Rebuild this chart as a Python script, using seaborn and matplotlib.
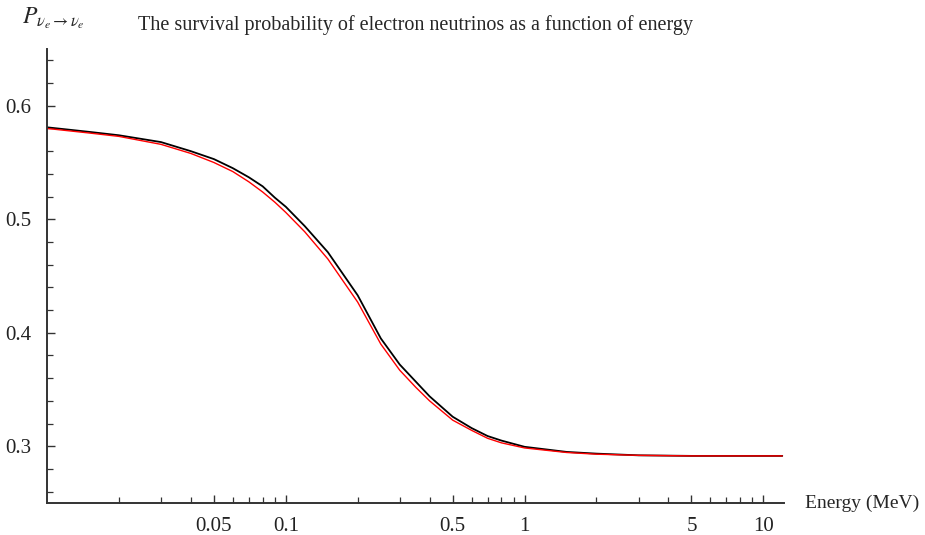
"""Survival probability of electron neutrinos vs energy"""
import matplotlib
matplotlib.use("Agg")
import matplotlib.pyplot as plt
import matplotlib.ticker as mticker
import seaborn as sns
import pandas as pd

# values
energy = [0.01, 0.015, 0.02, 0.03, 0.04, 0.05, 0.06, 0.07, 0.08, 0.09,
          0.1, 0.12, 0.15, 0.2, 0.25, 0.3, 0.35, 0.4, 0.5, 0.6,
          0.7, 0.8, 1.0, 1.5, 2.0, 3.0, 5.0, 10.0, 12.0]
p_black = [0.581, 0.577, 0.574, 0.568, 0.560, 0.553, 0.545, 0.537, 0.529, 0.519,
           0.511, 0.494, 0.471, 0.433, 0.395, 0.372, 0.357, 0.344, 0.326, 0.316,
           0.309, 0.305, 0.2995, 0.295, 0.2935, 0.292, 0.2915, 0.2915, 0.2915]
p_red = [0.580, 0.576, 0.573, 0.566, 0.558, 0.550, 0.542, 0.533, 0.524, 0.515,
         0.506, 0.489, 0.465, 0.427, 0.390, 0.367, 0.352, 0.340, 0.323, 0.314,
         0.307, 0.303, 0.2985, 0.2945, 0.293, 0.292, 0.2915, 0.2915, 0.2915]

major_x = [0.05, 0.1, 0.5, 1, 5, 10]
major_x_labels = ["0.05", "0.1", "0.5", "1", "5", "10"]
major_y = [0.3, 0.4, 0.5, 0.6]

df = pd.DataFrame({"E": energy, "black": p_black, "red": p_red})

sns.set_style("ticks")
plt.rcParams["font.family"] = ["Liberation Serif", "DejaVu Serif"]
plt.rcParams["mathtext.fontset"] = "stix"

fig = plt.figure(figsize=(9.25, 5.35), dpi=100)
ax = fig.add_axes([47 / 925, 32 / 535, 737 / 925, 454 / 535])

sns.lineplot(data=df, x="E", y="black", color="black", linewidth=1.3, ax=ax)
sns.lineplot(data=df, x="E", y="red", color="#ff0000", linewidth=1.0, ax=ax)

ax.set_xscale("log")
ax.set_xlim(0.01, 12.2)
ax.set_ylim(0.25, 0.65)

ax.xaxis.set_major_locator(mticker.FixedLocator(major_x))
ax.xaxis.set_major_formatter(mticker.FixedFormatter(major_x_labels))
ax.xaxis.set_minor_locator(mticker.LogLocator(base=10, subs=[2, 3, 4, 6, 7, 8, 9], numticks=20))
ax.xaxis.set_minor_formatter(mticker.NullFormatter())
ax.yaxis.set_major_locator(mticker.FixedLocator(major_y))
ax.yaxis.set_major_formatter(mticker.FormatStrFormatter("%.1f"))
ax.yaxis.set_minor_locator(mticker.MultipleLocator(0.02))

ax.tick_params(which="both", direction="in", color="#333333", labelsize=15, labelcolor="#222222")
ax.tick_params(which="major", length=6, width=1.0)
ax.tick_params(axis="x", which="major", pad=10)
ax.tick_params(axis="y", which="major", pad=11)
ax.tick_params(which="minor", length=4, width=0.9)

for side in ["top", "right"]:
    ax.spines[side].set_visible(False)
for side in ["left", "bottom"]:
    ax.spines[side].set_color("#333333")
    ax.spines[side].set_linewidth(1.4)

ax.set_xlabel("")
ax.set_ylabel("")

fig.text(805 / 925, 1 - 503 / 535, "Energy (MeV)", fontsize=14, va="center", ha="left")
fig.text(22 / 925, 1 - 18 / 535, r"$P_{\nu_e\rightarrow\nu_e}$", fontsize=17, va="center", ha="left")
fig.text(416 / 925, 1 - 25 / 535,
         "The survival probability of electron neutrinos as a function of energy",
         fontsize=14.5, va="center", ha="center")

fig.savefig("out.png", dpi=100)
